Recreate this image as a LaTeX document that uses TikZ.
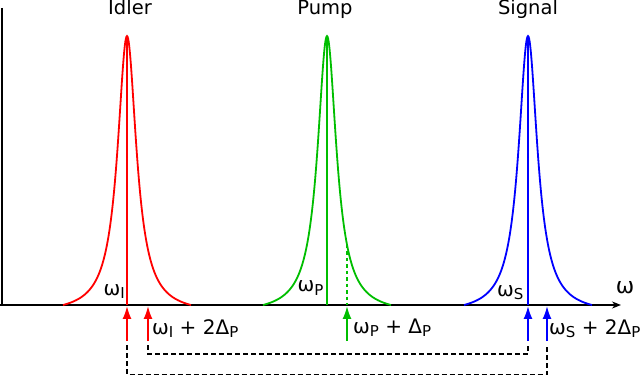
\documentclass[tikz,border=0pt]{standalone}
\usepackage{fontspec}
\setmainfont{DejaVu Sans}
\usetikzlibrary{arrows.meta}
\definecolor{cI}{RGB}{255,0,0}
\definecolor{cP}{RGB}{0,190,0}
\definecolor{cS}{RGB}{0,0,255}
\newcommand{\sbs}[1]{\raisebox{-3.5pt}{\fontsize{15}{16}\selectfont #1}}
\tikzset{
  ttl/.style={font=\fontsize{19.5}{21}\selectfont, inner sep=0pt, anchor=base},
  lbl/.style={font=\fontsize{20}{22}\selectfont, inner sep=0pt, anchor=base},
  curve/.style={line width=1.8pt},
  ctr/.style={line width=1.8pt},
  uparrow/.style={line width=1.8pt, -{Latex[length=13pt,width=9pt]}},
  link/.style={line width=1.4pt, dash pattern=on 5pt off 3pt},
}
\begin{document}
\begin{tikzpicture}[x=1pt,y=1pt]
\useasboundingbox (0,0) rectangle (644,377);
% axes
\coordinate (ytop) at (2,369);
\coordinate (org) at (2,72);
\coordinate (x0) at (0,72);
\coordinate (xend) at (621,72);
\draw[line width=1.4pt] (ytop) -- (org);
\draw[line width=1.4pt, -{Stealth[length=9pt,width=7pt]}] (x0) -- (xend);
\node[lbl, font=\fontsize{22}{23}\selectfont] (om) at (625,83) {ω};
% peaks
\def\lor#1{72+269*(1/(1+(#1/11.5)^2)-0.03128)/0.96872}
\foreach \cx/\col in {127/cI, 327/cP, 528/cS}{
  \draw[curve,\col] plot[domain=-64:64, samples=241, smooth] ({\x+\cx}, {\lor{\x}});
}
\coordinate (pI) at (127,341); \coordinate (bI) at (127,72);
\coordinate (pP) at (327,341); \coordinate (bP) at (327,72);
\coordinate (pS) at (528,341); \coordinate (bS) at (528,72);
\draw[ctr,cI] (pI) -- (bI);
\draw[ctr,cP] (pP) -- (bP);
\draw[ctr,cS] (pS) -- (bS);
% pump detuned dashed line
\coordinate (dtop) at (347,{\lor{20}});
\coordinate (dbot) at (347,72);
\draw[cP, line width=1.4pt, dash pattern=on 3.5pt off 3pt] (dtop) -- (dbot);
% titles
\node[ttl] (tI) at (130,362) {Idler};
\node[ttl] (tP) at (325,362) {Pump};
\node[ttl] (tS) at (528,362) {Signal};
% labels above axis
\node[lbl, anchor=base east] (wI) at (125,81.5) {ω\sbs{I}};
\node[lbl, anchor=base east] (wP) at (323.5,85) {ω\sbs{P}};
\node[lbl, anchor=base east] (wS) at (523.5,80.5) {ω\sbs{S}};
% arrows below axis
\coordinate (aI1) at (127,36); \coordinate (tI1) at (127,71);
\coordinate (aI2) at (148,36); \coordinate (tI2) at (148,71);
\coordinate (aP)  at (347,36); \coordinate (tPa) at (347,71);
\coordinate (aS1) at (528,36); \coordinate (tS1) at (528,71);
\coordinate (aS2) at (547,36); \coordinate (tS2) at (547,71);
\draw[uparrow,cI] (aI1) -- (tI1);
\draw[uparrow,cI] (aI2) -- (tI2);
\draw[uparrow,cP] (aP) -- (tPa);
\draw[uparrow,cS] (aS1) -- (tS1);
\draw[uparrow,cS] (aS2) -- (tS2);
\node[lbl, anchor=base west] (lI) at (152,42.5) {ω\sbs{I} + 2Δ\sbs{P}};
\node[lbl, anchor=base west] (lP) at (353,43.5) {ω\sbs{P} + Δ\sbs{P}};
\node[lbl, anchor=base west] (lS) at (549,42.5) {ω\sbs{S} + 2Δ\sbs{P}};
% dashed links
\coordinate (dI1) at (127,32); \coordinate (dI2) at (148,32);
\coordinate (dS1) at (528,32); \coordinate (dS2) at (547,32);
\draw[link] (dI2) |- (528,23) -- (dS1);
\draw[link] (dI1) |- (547,2.5) -- (dS2);
\end{tikzpicture}
\end{document}
